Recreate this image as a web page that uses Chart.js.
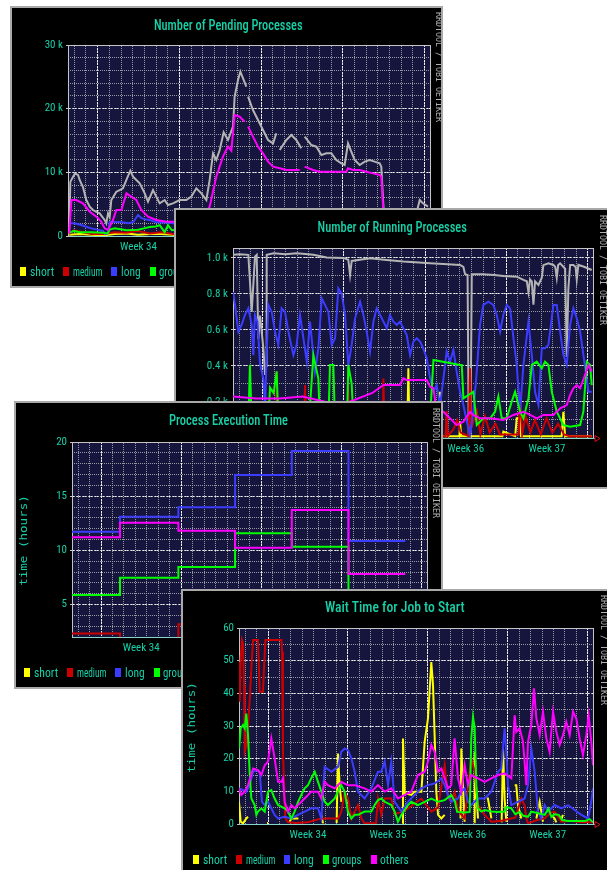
<!DOCTYPE html>
<html><head><meta charset="utf-8"><title>RRD charts</title>
<script src="https://cdn.jsdelivr.net/npm/chart.js@4.4.1/dist/chart.umd.min.js"></script>
<style>
html,body{margin:0;padding:0;background:#fff;}
body{position:relative;width:607px;height:870px;overflow:hidden;}
.panel{position:absolute;background:#000;border:2px solid #a9a9a9;box-sizing:border-box;overflow:hidden;}
.panel canvas{position:absolute;left:0;top:0;}
.txt{position:absolute;white-space:nowrap;line-height:1;}
.sq{position:absolute;width:6px;height:9px;}
</style></head><body>
<script>
// ---------------- DATA ----------------
const seriesNames = ['short', 'medium', 'long', 'groups', 'others'];
const totalName = 'total';
const weekLabels = ['Week 34', 'Week 35', 'Week 36', 'Week 37'];
const weekLabelDays = [6.04, 13.04, 20.04, 27.04];

const p1YTicks = [0, 10, 20, 30];
const p1YLabels = ['0', '10 k', '20 k', '30 k'];
const p2YTicks = [0, 0.2, 0.4, 0.6, 0.8, 1.0];
const p2YLabels = ['0.0', '0.2 k', '0.4 k', '0.6 k', '0.8 k', '1.0 k'];
const p3YTicks = [5, 10, 15, 20];
const p3YLabels = ['5', '10', '15', '20'];
const p4YTicks = [0, 10, 20, 30, 40, 50, 60];
const p4YLabels = ['0', '10', '20', '30', '40', '50', '60'];

// Panel 1: Number of Pending Processes (k) — [day, value]
const p1Total = [[0.1,0.4],[0.2,8.5],[0.43,9.3],[0.6,9.8],[0.86,9.6],[1.0,8.8],[1.28,7.7],[1.57,5.65],[1.86,4.6],[2.14,4.08],[2.43,3.8],[2.71,3.56],[3.14,2.51],[3.28,2.0],[3.43,3.56],[3.57,3.0],[3.71,5.65],[4.14,6.96],[4.42,7.2],[4.71,7.49],[5.0,8.8],[5.34,10.26],[5.57,9.32],[5.85,8.8],[6.14,8.27],[6.57,6.7],[6.85,5.39],[7.28,7.2],[7.56,6.18],[7.85,5.13],[8.28,5.65],[8.56,4.87],[8.99,5.13],[9.56,5.65],[10.13,5.65],[10.56,6.18],[10.99,7.49],[11.42,6.7],[11.85,5.65],[12.13,8.8],[12.42,12.98],[12.7,11.94],[12.99,13.51],[13.33,16.3],[13.7,15.08],[14.13,17.17],[14.27,21.88],[14.56,24.5],[14.76,25.81],[14.99,24.76],[15.27,23.46],[15.35,null],[15.42,21.88],[15.84,19.79],[16.27,18.22],[16.7,16.65],[17.13,15.08],[17.56,14.55],[17.84,16.13],[17.95,null],[18.13,13.51],[18.7,15.08],[19.13,15.86],[19.55,15.08],[19.98,13.77],[20.1,null],[20.27,15.6],[20.84,14.29],[21.27,14.03],[21.7,12.72],[22.12,12.98],[22.55,12.98],[22.98,11.94],[23.41,11.41],[23.69,11.15],[23.98,14.55],[24.26,13.25],[24.55,11.94],[24.98,11.15],[25.41,11.68],[25.83,11.94],[26.26,11.68],[26.69,11.41],[26.83,10.89],[26.98,5.65],[27.1,2.0],[28.0,1.6],[29.0,2.2],[29.8,3.3],[30.12,5.65],[30.4,5.13],[30.83,4.61]];
const p1Others = [[0.1,0.4],[0.29,5.65],[0.71,5.65],[1.28,5.13],[1.86,3.82],[2.43,3.04],[2.85,2.25],[3.14,1.2],[3.43,0.94],[3.85,2.51],[4.14,4.08],[4.57,4.08],[5.0,6.7],[5.42,6.18],[5.85,5.65],[6.28,4.08],[6.85,3.04],[7.56,2.51],[8.42,2.25],[8.99,2.25],[10.0,2.3],[11.0,2.5],[11.85,3.5],[12.13,4.61],[12.7,9.32],[13.27,12.46],[13.7,14.03],[13.99,13.4],[14.27,19.0],[14.7,18.74],[15.13,17.96],[15.25,null],[15.42,17.17],[15.84,15.6],[16.27,14.03],[16.7,12.98],[17.13,11.68],[17.56,10.89],[18.13,10.63],[18.7,10.37],[19.84,10.37],[19.95,null],[20.27,10.89],[20.98,10.37],[21.55,10.1],[23.84,10.1],[23.98,10.63],[24.41,10.37],[24.98,10.37],[25.55,10.1],[26.12,9.84],[26.69,9.58],[26.83,9.32],[26.98,4.61],[27.1,2.0],[28.0,1.5],[29.0,1.5],[30.0,1.5],[31.0,1.5]];
const p1Long = [[0.1,2.0],[0.5,2.0],[1.0,1.8],[1.5,1.5],[2.0,1.2],[2.5,1.0],[3.0,0.8],[3.2,0.3],[3.4,0.4],[3.57,2.2],[4.5,2.2],[5.2,2.0],[5.6,2.2],[6.0,3.3],[6.3,2.8],[6.7,2.6],[7.0,2.5],[7.5,2.2],[8.5,2.1],[9.0,2.0],[10.0,2.0],[12.0,2.0],[15.0,2.5],[20.0,2.0],[25.0,2.0],[30.0,1.5]];
const p1Groups = [[0.1,0.5],[0.5,0.8],[1.0,0.6],[2.0,0.6],[3.0,0.5],[3.4,0.4],[3.57,1.0],[4.0,1.2],[5.0,0.9],[6.0,1.0],[6.5,1.2],[7.0,1.4],[7.5,1.5],[7.85,1.7],[8.28,0.6],[8.56,1.7],[8.9,0.9],[9.5,1.0],[12.0,1.0],[20.0,1.0],[30.0,1.0]];
const p1Medium = [[0.1,0.3],[0.5,0.9],[1.0,0.7],[2.0,0.3],[3.0,0.3],[4.0,0.6],[5.0,0.5],[6.0,0.8],[7.0,0.4],[8.0,0.6],[9.0,0.3],[15.0,0.5],[30.0,0.3]];
const p1Short = [[0.1,0.2],[1.0,0.3],[2.0,0.2],[3.0,0.1],[4.0,0.3],[5.0,0.4],[6.0,0.2],[7.0,0.3],[8.0,0.3],[9.0,0.2],[30.0,0.2]];

// Panel 2: Number of Running Processes (k)
const p2Total = [[0,1.017],[0.6,1.02],[1.32,1.017],[1.46,0.87],[1.61,0.70],[1.75,0.85],[1.89,1.007],[2.04,1.017],[2.18,0.55],[2.33,0.68],[2.61,0.50],[2.76,0.35],[2.85,0.40],[2.9,1.017],[3.5,1.026],[4.5,1.02],[5.5,1.026],[6.92,1.017],[8.07,1.002],[9.5,1.0],[9.93,0.99],[10.08,0.905],[10.22,0.983],[11.8,0.998],[13.0,0.99],[14.67,0.98],[16.97,0.97],[18.5,0.965],[19.55,0.961],[19.84,0.95],[19.98,0.91],[20.2,0.905],[20.3,0.01],[20.45,0.01],[20.56,0.909],[21.5,0.909],[22.5,0.905],[23.28,0.90],[24.43,0.896],[25.01,0.878],[25.3,0.87],[25.44,0.81],[25.58,0.88],[25.73,0.87],[25.87,0.74],[26.01,0.87],[26.3,0.85],[26.59,0.89],[26.73,0.96],[27.16,0.97],[27.59,0.961],[27.75,0.95],[27.88,0.89],[28.0,0.96],[28.17,0.97],[28.6,0.94],[28.74,0.45],[28.88,0.83],[29.03,0.961],[29.31,0.961],[29.5,0.95],[29.6,0.88],[29.74,0.961],[30.17,0.952],[30.89,0.933]];
const p2Long = [[0,0.81],[0.17,0.74],[0.46,0.59],[0.75,0.63],[1.03,0.683],[1.32,0.72],[1.61,0.628],[1.75,0.46],[1.89,0.683],[2.1,0.646],[2.33,0.41],[2.61,0.33],[2.76,0.18],[3.04,0.74],[3.33,0.70],[3.62,0.59],[3.9,0.517],[4.19,0.72],[4.48,0.70],[4.77,0.59],[5.2,0.46],[5.48,0.517],[5.77,0.683],[6.06,0.554],[6.35,0.424],[6.63,0.646],[7.06,0.369],[7.35,0.498],[7.64,0.776],[7.92,0.739],[8.21,0.70],[8.5,0.517],[8.79,0.554],[9.07,0.831],[9.36,0.80],[9.65,0.683],[9.93,0.406],[10.22,0.517],[10.51,0.665],[10.94,0.757],[11.23,0.683],[11.51,0.591],[11.8,0.48],[12.09,0.646],[12.37,0.72],[12.81,0.665],[13.24,0.61],[13.52,0.683],[13.81,0.646],[14.1,0.628],[14.38,0.646],[14.67,0.61],[14.96,0.572],[15.25,0.461],[15.53,0.535],[15.82,0.554],[16.11,0.535],[16.39,0.498],[16.68,0.443],[16.97,0.331],[17.26,0.257],[17.54,0.294],[17.83,0.183],[18.12,0.331],[18.4,0.48],[18.69,0.424],[18.98,0.489],[19.26,0.369],[19.55,0.257],[19.84,0.183],[20.13,0.091],[20.41,0.017],[20.7,0.146],[20.99,0.369],[21.27,0.628],[21.56,0.739],[21.99,0.757],[22.42,0.739],[22.71,0.683],[23.0,0.591],[23.28,0.683],[23.57,0.739],[23.86,0.72],[24.15,0.554],[24.43,0.406],[24.72,0.146],[25.01,0.406],[25.44,0.646],[25.73,0.461],[26.01,0.257],[26.3,0.183],[26.59,0.498],[26.87,0.498],[27.16,0.517],[27.59,0.739],[27.88,0.739],[28.17,0.591],[28.45,0.461],[28.74,0.406],[29.03,0.628],[29.31,0.72],[29.6,0.665],[29.89,0.591],[30.17,0.461],[30.46,0.331],[30.6,0.257],[30.89,0.257]];
const p2Groups = [[0,0.05],[1.3,0.05],[1.46,0.406],[1.6,0.1],[1.75,0.05],[3.0,0.05],[3.19,0.28],[3.5,0.25],[3.76,0.37],[3.9,0.1],[4.5,0.05],[6.5,0.05],[6.92,0.46],[7.35,0.33],[7.5,0.05],[8.2,0.05],[8.35,0.406],[8.64,0.406],[8.8,0.05],[9.8,0.05],[9.93,0.406],[10.22,0.3],[10.4,0.05],[12.0,0.1],[14.0,0.05],[15.0,0.15],[16.0,0.1],[17.0,0.15],[17.26,0.433],[19.55,0.406],[19.7,0.406],[19.84,0.22],[20.7,0.257],[20.99,0.072],[21.56,0.109],[22.14,0.109],[22.57,0.146],[22.85,0.23],[23.14,0.109],[23.57,0.109],[24.0,0.202],[24.29,0.257],[24.72,0.146],[25.01,0.109],[25.44,0.22],[25.73,0.406],[26.16,0.424],[26.59,0.387],[26.87,0.424],[27.16,0.406],[27.45,0.257],[27.88,0.146],[28.45,0.072],[29.03,0.063],[29.89,0.072],[30.17,0.146],[30.46,0.424],[30.75,0.406],[30.89,0.294]];
const p2Others = [[0,0.23],[2.0,0.22],[4.0,0.22],[6.0,0.23],[8.0,0.2],[10.0,0.2],[12.0,0.25],[12.95,0.294],[14.38,0.294],[14.67,0.331],[14.96,0.322],[16.68,0.322],[16.97,0.285],[17.26,0.276],[17.54,0.146],[18.12,0.146],[18.69,0.109],[19.26,0.072],[19.84,0.091],[20.41,0.146],[20.7,0.128],[21.27,0.109],[22.14,0.109],[23.28,0.1],[24.15,0.128],[25.01,0.146],[25.58,0.128],[26.16,0.109],[26.73,0.128],[27.59,0.128],[28.17,0.165],[28.74,0.183],[29.03,0.239],[29.31,0.276],[29.6,0.294],[29.89,0.276],[30.32,0.35],[30.6,0.406],[30.89,0.369]];
const p2Medium = [[0,0.01],[3.7,0.01],[3.76,0.37],[3.85,0.01],[6.1,0.01],[6.2,0.294],[6.3,0.01],[9.85,0.01],[9.93,0.294],[10.0,0.01],[12.9,0.01],[12.95,0.331],[13.05,0.01],[18.3,0.01],[18.4,0.15],[18.5,0.01],[19.0,0.05],[19.3,0.1],[19.6,0.03],[20.3,0.01],[20.41,0.387],[20.5,0.05],[20.99,0.15],[21.3,0.02],[21.7,0.12],[22.1,0.03],[22.6,0.08],[23.0,0.02],[24.6,0.02],[24.72,0.257],[24.9,0.02],[25.2,0.12],[25.6,0.03],[26.0,0.1],[26.5,0.02],[27.0,0.11],[27.5,0.03],[28.0,0.08],[28.5,0.02],[29.0,0.01],[30.89,0.01]];
const p2Short = [[0,0.01],[15.0,0.01],[15.1,0.387],[15.2,0.01],[17.7,0.01],[17.83,0.257],[17.95,0.01],[19.5,0.01],[19.55,0.091],[19.65,0.01],[23.2,0.01],[23.28,0.035],[24.3,0.01],[24.43,0.109],[24.72,0.109],[24.8,0.01],[28.3,0.01],[28.45,0.146],[28.6,0.01],[30.89,0.01]];

// Panel 3: Process Execution Time (hours), step values
const p3Days = [0, 4.19, 9.29, 14.24, 19.19, 24.14, 29.1];
const p3Short = [1.2, 1.3, 1.2, 1.4, 1.3, 1.2, 1.2];
const p3Medium = [2.32, 1.9, 3.17, 3.0, 2.8, 2.6, 2.6];
const p3Long = [11.72, 13.1, 13.97, 16.95, 19.17, 10.86, 10.86];
const p3Groups = [5.87, 7.47, 8.46, 11.57, 10.33, 4.0, 4.0];
const p3Others = [11.2, 12.55, 11.81, 10.24, 13.72, 7.81, 7.81];

// Panel 4: Wait Time for Job to Start (hours)
const p4Short = [[0,6.8],[0.15,0.7],[0.35,0.2],[0.64,1.7],[0.79,2.2],[0.85,null],[2.45,0.3],[2.55,0.3],[2.6,null],[4.4,0.5],[4.58,1.7],[5.2,1.7],[5.3,null],[7.1,2.8],[7.2,2.8],[7.36,0.2],[7.45,null],[8.55,0.3],[8.67,21.6],[8.81,11.9],[8.96,6.8],[9.1,null],[14.3,0.3],[14.36,26.2],[14.51,9.4],[15.09,8.9],[15.38,9.9],[15.97,9.9],[16.26,25.2],[16.55,32.3],[16.84,49.6],[16.99,42.5],[17.13,27.2],[17.28,9.9],[17.43,2.8],[17.72,1.7],[18.01,2.8],[18.1,null],[19.4,1.7],[19.47,23.1],[19.61,11.9],[19.76,0.7],[19.9,null],[20.6,0.5],[20.64,22.1],[20.78,9.9],[20.93,1.7],[21.0,null],[21.7,7.8],[21.8,7.8],[22.1,1.7],[22.2,null],[23.0,0.5],[23.12,23.1],[23.26,7.8],[23.41,0.7],[23.5,null],[24.14,11.9],[24.28,11.9],[24.43,5.8],[24.72,1.7],[24.8,null],[26.04,1.7],[26.33,6.8],[26.62,0.7],[26.7,null],[27.5,2.2],[27.64,1.7],[27.79,0.5],[27.9,null],[28.2,1.2],[28.37,2.8],[28.5,null]];
const p4Medium = [[0,49.6],[0.06,37.4],[0.15,50.7],[0.26,56.3],[0.35,55.3],[0.44,42.5],[0.5,22.1],[0.64,24.0],[0.79,30.3],[0.93,37.4],[1.08,47.6],[1.23,56.3],[1.66,56.3],[1.75,47.6],[1.81,40.5],[2.1,40.5],[2.19,47.6],[2.31,56.3],[3.71,56.3],[3.77,52.7],[3.85,22.1],[3.94,11.9],[4.06,1.7],[4.3,0.5],[5.0,0.3],[6.0,0.5],[7.2,1.7],[8.7,1.7],[8.96,3.8],[9.25,9.9],[9.54,7.8],[9.84,1.7],[10.42,5.8],[10.71,1.7],[11.0,0.2],[12.0,0.3],[12.17,7.8],[12.46,2.8],[12.76,7.8],[13.34,7.8],[13.63,3.0],[14.5,4.0],[15.97,7.8],[16.84,3.8],[17.43,5.0],[18.01,18.0],[18.3,8.0],[18.59,6.8],[18.88,9.9],[19.2,4.0],[19.76,1.7],[20.34,20.1],[20.64,16.0],[20.93,5.8],[21.51,2.8],[22.1,0.7],[23.0,1.0],[24.2,2.0],[24.72,7.8],[25.01,5.8],[25.16,1.7],[25.31,0.2],[26.1,1.2],[26.77,1.7],[27.3,3.5],[27.64,3.8],[28.23,0.7],[29.0,1.0],[30.0,0.5],[31.0,0.5]];
const p4Long = [[0,10.9],[0.35,10.4],[0.64,9.9],[0.93,11.9],[1.23,16.0],[1.52,16.5],[1.81,16.0],[2.01,6.8],[2.25,5.8],[2.54,6.8],[2.83,4.8],[3.12,2.8],[3.42,1.7],[4.0,2.2],[4.58,1.7],[5.17,2.8],[5.75,3.8],[6.33,4.8],[6.92,4.8],[7.21,1.7],[7.5,17.5],[8.09,16.0],[8.67,17.5],[8.96,22.1],[9.25,23.1],[9.54,22.6],[9.84,20.1],[10.13,16.0],[10.42,9.9],[11.0,7.8],[11.59,10.9],[12.17,16.0],[12.46,16.0],[12.76,19.1],[13.05,11.9],[13.34,19.1],[13.63,6.8],[14.22,3.8],[14.8,6.8],[15.38,8.9],[15.97,10.9],[16.55,11.9],[17.13,12.4],[17.72,14.0],[18.01,11.9],[18.3,8.9],[18.59,6.8],[19.18,7.8],[19.47,9.9],[19.76,10.9],[20.05,6.8],[20.34,5.8],[20.93,7.8],[21.51,7.8],[22.1,9.9],[22.68,16.0],[22.97,17.0],[23.26,29.3],[23.41,22.1],[23.55,11.9],[23.85,5.8],[24.43,6.8],[25.01,7.8],[25.31,11.9],[25.6,23.1],[25.89,16.0],[26.18,3.8],[26.47,1.7],[26.77,5.8],[27.06,3.8],[27.64,5.8],[28.23,4.8],[28.81,5.8],[29.39,4.3],[29.98,2.8],[30.56,1.7],[30.85,6.8],[31.0,10.9]];
const p4Groups = [[0,23.1],[0.15,29.3],[0.35,30.3],[0.5,29.3],[0.64,33.8],[0.79,27.2],[0.93,16.0],[1.08,7.8],[1.23,6.8],[1.37,5.8],[1.52,2.8],[1.66,3.8],[1.96,4.8],[2.25,3.8],[2.54,9.9],[2.83,10.4],[3.12,7.8],[3.42,5.8],[4.0,4.8],[4.29,3.8],[4.58,1.7],[4.87,3.8],[5.17,6.8],[5.46,8.9],[5.75,10.9],[6.04,11.9],[6.33,14.0],[6.63,16.0],[6.92,12.9],[7.21,9.9],[7.5,6.8],[7.79,5.8],[8.09,6.8],[8.38,7.8],[8.67,9.9],[8.96,11.9],[9.25,9.9],[9.54,3.8],[9.84,1.7],[10.13,2.8],[10.42,2.8],[11.0,3.8],[11.59,3.8],[11.88,5.8],[12.17,7.3],[12.46,7.8],[12.76,6.8],[13.34,5.8],[13.63,3.8],[13.92,0.7],[14.22,2.8],[14.8,5.8],[15.09,6.8],[15.67,5.8],[16.26,6.8],[16.84,7.8],[17.43,6.8],[18.01,7.3],[18.59,8.9],[18.9,7.0],[19.1,3.7],[19.76,3.5],[20.2,3.7],[20.34,26.2],[20.49,32.8],[20.64,29.3],[20.78,11.9],[20.93,4.8],[21.22,3.8],[21.51,4.3],[22.1,3.8],[22.68,3.7],[23.26,3.8],[23.4,5.2],[23.85,4.8],[24.2,3.0],[24.6,3.7],[24.9,2.5],[25.3,2.2],[25.6,3.8],[26.2,3.3],[26.77,2.8],[27.1,4.7],[27.35,2.2],[27.64,3.0],[28.0,2.8],[28.3,1.2],[28.8,0.9],[29.5,0.9],[30.3,0.9],[30.7,1.5],[31.0,0.5]];
const p4Others = [[0,10.9],[0.2,8.9],[0.5,9.9],[0.79,11.9],[1.23,17.0],[1.66,16.5],[1.96,15.0],[2.25,18.0],[2.54,19.1],[2.83,26.2],[3.12,20.1],[3.42,12.9],[3.71,12.9],[3.85,14.0],[4.0,6.8],[4.29,3.8],[4.58,5.8],[4.87,4.8],[5.17,5.8],[5.75,7.8],[6.33,9.9],[6.92,9.9],[7.21,7.8],[7.5,12.9],[7.79,11.9],[8.38,10.9],[8.96,12.9],[9.54,11.9],[10.13,11.9],[11.0,10.9],[11.59,9.9],[12.17,11.9],[12.76,9.9],[13.34,10.9],[13.92,7.8],[14.51,8.9],[15.09,9.9],[15.67,15.0],[16.26,16.0],[16.55,19.1],[16.84,24.2],[17.13,22.1],[17.43,16.0],[17.72,17.0],[18.01,14.0],[18.3,10.9],[18.59,11.9],[18.88,26.2],[19.18,14.0],[19.47,9.9],[19.76,18.0],[20.05,11.9],[20.34,15.0],[20.93,14.0],[21.51,12.9],[22.1,14.0],[22.68,15.0],[23.26,15.5],[23.85,14.0],[24.14,33.3],[24.28,28.2],[24.58,29.3],[24.87,25.2],[25.16,11.9],[25.31,25.2],[25.6,30.3],[25.83,41.5],[26.04,32.3],[26.33,27.2],[26.62,34.4],[26.91,26.2],[27.2,22.1],[27.5,34.4],[27.79,28.2],[28.08,24.2],[28.37,27.2],[28.66,31.3],[28.96,27.2],[29.25,34.4],[29.54,32.3],[29.83,26.2],[30.12,21.1],[30.41,27.2],[30.62,33.3],[30.85,25.2],[31.0,18.0]];

// ---------------- STYLE ----------------
const seriesColors = ['#ffff00', '#cc0000', '#3c3cff', '#00ff00', '#ff00ff'];
const totalColor = '#b4b4b4';
const TEAL = '#17d0a8', AXIS = '#86d4cc', FRAME = '#c4c4c4';
const MINOR = 'rgba(165,165,175,0.9)', MAJOR = 'rgba(240,240,240,1)';
const PLOTBG = '#15153d', GRAYTXT = '#b0b0b0';

function detectNarrow() {
  const c = document.createElement('canvas').getContext('2d');
  const s = 'Number of Pending Processes Week 34';
  const meas = f => { c.font = f; return c.measureText(s).width; };
  const cands = ['Liberation Sans Narrow', 'Arial Narrow', 'Roboto Condensed', 'DejaVu Sans Condensed'];
  for (const n of cands) {
    if (meas('20px "' + n + '", monospace') !== meas('20px monospace') ||
        meas('20px "' + n + '", serif') !== meas('20px serif')) return { family: '"' + n + '"', stretch: '' };
  }
  const a = meas('20px "DejaVu Sans"'), b = meas('condensed 20px "DejaVu Sans"');
  if (b < a * 0.95) return { family: '"DejaVu Sans"', stretch: 'condensed' };
  return { family: 'Roboto', stretch: '' };
}
const NF = detectNarrow();
const FAM = NF.family + ', Roboto, sans-serif';
const tickFont = { family: FAM, size: 11, weight: NF.stretch || undefined };

const dayLines = Array.from({ length: 31 }, (_, i) => 0.54 + i);
const weekStarts = [2.54, 9.54, 16.54, 23.54, 30.54];
function range(a, b, st) { const r = []; for (let v = a; v <= b + 1e-9; v += st) r.push(Math.round(v * 1000) / 1000); return r; }

const plotBg = {
  id: 'plotBg',
  beforeDraw(chart) {
    const { ctx, chartArea: a } = chart;
    ctx.save(); ctx.fillStyle = PLOTBG;
    ctx.fillRect(a.left, a.top, a.right - a.left, a.bottom - a.top);
    ctx.restore();
  }
};
const axisArrow = {
  id: 'axisArrow',
  afterDraw(chart) {
    const { ctx, chartArea: a } = chart;
    const y = a.bottom + 0.5, x = a.right + 2;
    ctx.save();
    ctx.strokeStyle = AXIS; ctx.lineWidth = 1;
    ctx.beginPath(); ctx.moveTo(a.right, y); ctx.lineTo(x, y); ctx.stroke();
    ctx.strokeStyle = '#dd1010';
    ctx.beginPath(); ctx.moveTo(x, y - 3); ctx.lineTo(x + 5, y); ctx.lineTo(x, y + 3); ctx.closePath(); ctx.stroke();
    ctx.restore();
  }
};

function lineDs(label, pts, color, order, extra) {
  return Object.assign({
    label, data: pts.map(p => ({ x: p[0], y: p[1] })), borderColor: color, backgroundColor: color,
    borderWidth: 2, pointRadius: 0, fill: false, spanGaps: false, order, xAxisID: 'x', yAxisID: 'y'
  }, extra || {});
}
const stepPts = vals => p3Days.map((d, i) => [d, vals[i]]);

const panels = [
  { left: 10, top: 6, w: 433, h: 282, z: 1, plot: { l: 56, t: 37, r: 418, b: 228 },
    title: 'Number of Pending Processes', titleC: [216, 17], titleW: 149,
    yMin: 0, yMax: 30, yTicks: p1YTicks, yLabels: p1YLabels, yMinorStep: 2,
    legend: { x: 8, y: 263, total: true }, rrd: [426, 4], yTitle: null,
    datasets: [
      lineDs(totalName, p1Total, totalColor, 6),
      lineDs(seriesNames[0], p1Short, seriesColors[0], 5),
      lineDs(seriesNames[1], p1Medium, seriesColors[1], 4),
      lineDs(seriesNames[2], p1Long, seriesColors[2], 3),
      lineDs(seriesNames[3], p1Groups, seriesColors[3], 2),
      lineDs(seriesNames[4], p1Others, seriesColors[4], 1)] },
  { left: 174, top: 208, w: 437, h: 281, z: 2, plot: { l: 57, t: 38, r: 417, b: 228 },
    title: 'Number of Running Processes', titleC: [216, 17], titleW: 149,
    yMin: 0, yMax: 1.055, yTicks: p2YTicks, yLabels: p2YLabels, yMinorStep: 0.1,
    legend: { x: 8, y: 263, total: true }, rrd: [426, 5], yTitle: null,
    datasets: [
      lineDs(totalName, p2Total, totalColor, 6),
      lineDs(seriesNames[0], p2Short, seriesColors[0], 5),
      lineDs(seriesNames[1], p2Medium, seriesColors[1], 4),
      lineDs(seriesNames[2], p2Long, seriesColors[2], 3),
      lineDs(seriesNames[3], p2Groups, seriesColors[3], 2),
      lineDs(seriesNames[4], p2Others, seriesColors[4], 1)] },
  { left: 14, top: 401, w: 429, h: 288, z: 3, plot: { l: 56, t: 39, r: 411, b: 234 },
    title: 'Process Execution Time', titleC: [212, 17], titleW: 119,
    yMin: 2, yMax: 20, yTicks: p3YTicks, yLabels: p3YLabels, yMinorStep: 1,
    legend: { x: 8, y: 269, total: false }, rrd: [419, 5], yTitle: [7, 137],
    datasets: [
      lineDs(seriesNames[0], stepPts(p3Short), seriesColors[0], 5, { stepped: 'before' }),
      lineDs(seriesNames[1], stepPts(p3Medium), seriesColors[1], 4, { stepped: 'before' }),
      lineDs(seriesNames[2], stepPts(p3Long), seriesColors[2], 3, { stepped: 'before' }),
      lineDs(seriesNames[3], stepPts(p3Groups), seriesColors[3], 2, { stepped: 'before' }),
      lineDs(seriesNames[4], stepPts(p3Others), seriesColors[4], 1, { stepped: 'before' })] },
  { left: 181, top: 589, w: 430, h: 290, z: 4, plot: { l: 56, t: 37, r: 410, b: 233 },
    title: 'Wait Time for Job to Start', titleC: [212, 16], titleW: 140,
    yMin: 0, yMax: 60, yTicks: p4YTicks, yLabels: p4YLabels, yMinorStep: 5,
    legend: { x: 10, y: 268, total: false }, rrd: [420, 4], yTitle: [8, 136],
    datasets: [
      lineDs(seriesNames[0], p4Short, seriesColors[0], 5),
      lineDs(seriesNames[1], p4Medium, seriesColors[1], 4),
      lineDs(seriesNames[2], p4Long, seriesColors[2], 3),
      lineDs(seriesNames[3], p4Groups, seriesColors[3], 2),
      lineDs(seriesNames[4], p4Others, seriesColors[4], 1)] }
];

function addText(parent, text, o) {
  const el = document.createElement('div');
  el.className = 'txt'; el.textContent = text;
  el.style.fontFamily = o.family || FAM;
  if (!o.family && NF.stretch) el.style.fontStretch = NF.stretch;
  el.style.fontSize = o.size + 'px'; el.style.color = o.color;
  if (o.weight) el.style.fontWeight = o.weight;
  if (o.spacing) el.style.letterSpacing = o.spacing + 'px';
  if (o.vertical) el.style.writingMode = 'vertical-rl';
  parent.appendChild(el);
  const w = el.offsetWidth, h = el.offsetHeight;
  if (o.mode === 'center') {
    el.style.left = (o.x - w / 2) + 'px'; el.style.top = (o.y - h / 2) + 'px';
    el.style.transformOrigin = 'center center';
    el.style.transform = 'scaleX(' + (o.tw / w) + ')';
  } else if (o.mode === 'left') {
    el.style.left = o.x + 'px'; el.style.top = (o.y - h / 2) + 'px';
    el.style.transformOrigin = 'left center';
    el.style.transform = 'scaleX(' + (o.tw / w) + ')';
  } else if (o.mode === 'rot') {
    el.style.left = (o.x - w / 2) + 'px'; el.style.top = (o.y - h / 2) + 'px';
    el.style.transformOrigin = 'center center';
    el.style.transform = 'rotate(-90deg) scaleX(' + (o.tw / w) + ')';
  } else if (o.mode === 'vert') {
    el.style.left = (o.x - w / 2) + 'px'; el.style.top = o.y + 'px';
    el.style.transformOrigin = 'center top';
    el.style.transform = 'scaleY(' + (o.tw / h) + ')';
  }
  return el;
}

function build(spec) {
  const panel = document.createElement('div');
  panel.className = 'panel';
  Object.assign(panel.style, { left: spec.left + 'px', top: spec.top + 'px', width: spec.w + 'px', height: spec.h + 'px', zIndex: spec.z });
  document.body.appendChild(panel);
  const W = spec.w - 4, H = spec.h - 4, pl = spec.plot;
  const cv = document.createElement('canvas');
  cv.width = W; cv.height = H; cv.style.width = W + 'px'; cv.style.height = H + 'px';
  panel.appendChild(cv);
  const yMinor = range(Math.ceil(spec.yMin / spec.yMinorStep) * spec.yMinorStep, spec.yMax, spec.yMinorStep);

  new Chart(cv, {
    type: 'line',
    data: { datasets: spec.datasets },
    options: {
      responsive: false, animation: false, events: [], devicePixelRatio: 1,
      layout: { padding: { left: 0, top: pl.t, right: W - pl.r, bottom: 0 } },
      plugins: { legend: { display: false }, tooltip: { enabled: false }, title: { display: false } },
      elements: { point: { radius: 0 }, line: { borderWidth: 2, tension: 0 } },
      scales: {
        x: { type: 'linear', position: 'bottom', min: 0, max: 31, z: 1,
          afterBuildTicks: s => { s.ticks = weekLabelDays.map(v => ({ value: v })); },
          afterFit: s => { s.height = H - pl.b; },
          ticks: { display: true, autoSkip: false, maxRotation: 0, padding: 5, color: TEAL, font: tickFont,
            callback: (v, i) => weekLabels[i] },
          grid: { drawOnChartArea: false, drawTicks: false },
          border: { display: true, color: AXIS, width: 1 } },
        xMinor: { type: 'linear', position: 'top', min: 0, max: 31,
          afterBuildTicks: s => { s.ticks = dayLines.map(v => ({ value: v })); },
          afterFit: s => { s.height = 0; },
          ticks: { display: false },
          grid: { color: MINOR, lineWidth: 1, drawTicks: false },
          border: { display: true, color: FRAME, width: 1, dash: [1, 1] } },
        xMajor: { type: 'linear', position: 'top', min: 0, max: 31,
          afterBuildTicks: s => { s.ticks = weekStarts.map(v => ({ value: v })); },
          afterFit: s => { s.height = 0; },
          ticks: { display: false },
          grid: { color: MAJOR, lineWidth: 1, drawTicks: false },
          border: { display: false, dash: [2, 1] } },
        y: { type: 'linear', position: 'left', min: spec.yMin, max: spec.yMax,
          afterBuildTicks: s => { s.ticks = spec.yTicks.map(v => ({ value: v })); },
          afterFit: s => { s.width = pl.l; },
          ticks: { color: TEAL, font: tickFont, padding: 3, callback: (v, i) => spec.yLabels[i] },
          grid: { color: MAJOR, lineWidth: 1, drawTicks: true, tickLength: 2, tickColor: FRAME },
          border: { display: true, color: FRAME, width: 1, dash: [2, 1] } },
        yMinor: { type: 'linear', position: 'right', min: spec.yMin, max: spec.yMax,
          afterBuildTicks: s => { s.ticks = yMinor.map(v => ({ value: v })); },
          afterFit: s => { s.width = 0; },
          ticks: { display: false },
          grid: { color: MINOR, lineWidth: 1, drawTicks: false },
          border: { display: true, color: FRAME, width: 1, dash: [1, 1] } }
      }
    },
    plugins: [plotBg, axisArrow]
  });

  addText(panel, spec.title, { mode: 'center', x: spec.titleC[0], y: spec.titleC[1], tw: spec.titleW, size: 15, color: TEAL, weight: 500 });
  addText(panel, 'RRDTOOL / TOBI OETIKER', { mode: 'vert', x: spec.rrd[0], y: spec.rrd[1], tw: 110, size: 8, color: GRAYTXT,
    family: '"DejaVu Sans Mono", monospace', vertical: true });
  if (spec.yTitle) addText(panel, 'time (hours)', { mode: 'rot', x: spec.yTitle[0], y: spec.yTitle[1], tw: 90, size: 11, color: TEAL,
    family: '"DejaVu Sans Mono", monospace' });
  const names = seriesNames.slice(), cols = seriesColors.slice();
  if (spec.legend.total) { names.push(totalName); cols.push(totalColor); }
  let x = spec.legend.x;
  names.forEach((n, i) => {
    const sq = document.createElement('div'); sq.className = 'sq';
    Object.assign(sq.style, { left: x + 'px', top: (spec.legend.y - 4.5) + 'px', background: cols[i] });
    panel.appendChild(sq);
    const tw = n.length * 4.85;
    addText(panel, n, { mode: 'left', x: x + 9.5, y: spec.legend.y, tw, size: 13, color: TEAL });
    x += 10 + tw + 9;
  });
}
panels.forEach(build);
</script>
</body></html>
